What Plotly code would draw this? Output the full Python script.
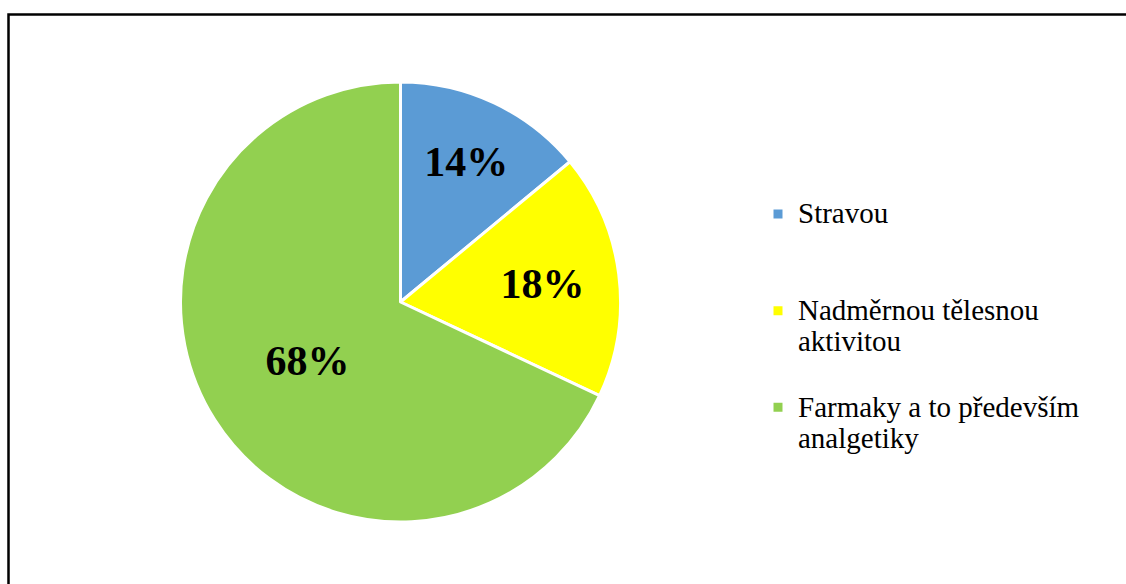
import plotly.graph_objects as go

categories = ["Stravou", "Nadměrnou tělesnou<br>aktivitou", "Farmaky a to především<br>analgetiky"]
values = [14, 18, 68]
colors = ["#5B9BD5", "#FFFF00", "#92D050"]

W, H = 1126, 584
FONT = "Liberation Serif, Times New Roman, serif"

# legend entries: visible text at 29px, line spacing driven by the legend font size
def legend_label(text, total_lines=3):
    n = text.count("<br>") + 1
    pad = "<br>&nbsp;" * (total_lines - n)
    return "<span style='font-size:29px'>" + text + "</span>" + pad

labels = [legend_label(c) for c in categories]

fig = go.Figure(go.Pie(
    labels=labels,
    values=values,
    sort=False,
    direction="clockwise",
    rotation=0,
    marker=dict(colors=colors, line=dict(color="white", width=3)),
    texttemplate="%{percent:.0%}",
    textposition="inside",
    insidetextorientation="horizontal",
    textfont=dict(family=FONT, size=42, color="black", weight="bold"),
    domain=dict(x=[180/W, 621/W], y=[1-522/H, 1-82/H]),
    hovertemplate="%{percent:.0%}<extra></extra>",
))

fig.update_layout(
    width=W, height=H,
    margin=dict(l=0, r=0, t=0, b=0),
    paper_bgcolor="white",
    font=dict(family=FONT, size=24, color="black"),
    showlegend=True,
    legend=dict(x=758/W, y=1-192/H, xanchor="left", yanchor="top",
                valign="top", font=dict(size=24, family=FONT, color="black"),
                bgcolor="rgba(0,0,0,0)"),
    shapes=[dict(type="rect", xref="paper", yref="paper",
                 x0=8.5/W, x1=1.01, y0=-0.05, y1=1-14.5/H,
                 line=dict(color="black", width=2.5), fillcolor="rgba(0,0,0,0)")],
)

fig.write_html("out.html", config={"displayModeBar": False},
               post_script="document.body.style.margin='0';")
